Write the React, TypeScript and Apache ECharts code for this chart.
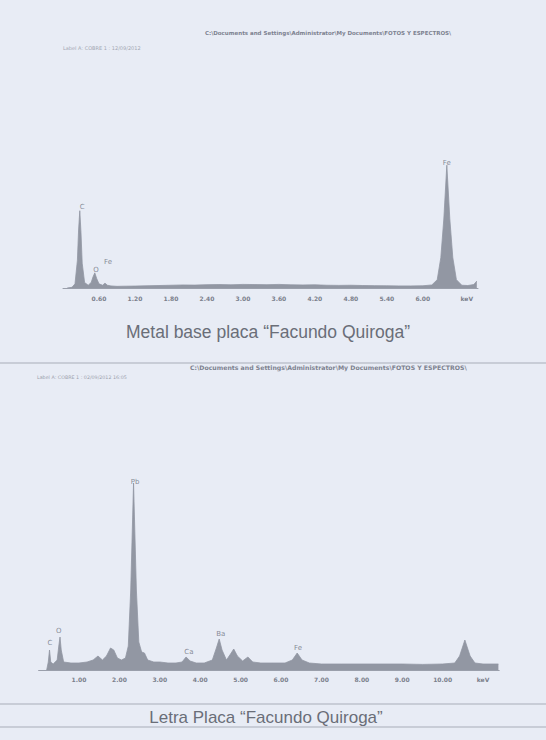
import React, { useEffect, useRef } from "react";
import * as echarts from "echarts";

// ---- Data ----
// Top spectrum: "Metal base placa" — [keV, relative counts]
const metalBaseSpectrum: [number, number][] = [
  [0.07, 0], [0.15, 0.5], [0.2, 3], [0.24, 20], [0.26, 42], [0.28, 56], [0.3, 40], [0.32, 18],
  [0.36, 4], [0.42, 2], [0.47, 4], [0.5, 8], [0.53, 11], [0.56, 7], [0.6, 3], [0.66, 2],
  [0.7, 3.5], [0.74, 2], [0.8, 1.5], [0.9, 1.2], [1.0, 1.3], [1.2, 1.4], [1.4, 1.6], [1.6, 1.8],
  [1.8, 2.0], [2.0, 2.2], [2.2, 2.1], [2.4, 2.4], [2.6, 2.5], [2.8, 2.3], [3.0, 2.6], [3.2, 2.5],
  [3.4, 2.4], [3.6, 2.6], [3.8, 2.3], [4.0, 2.2], [4.2, 2.3], [4.4, 2.0], [4.6, 1.9], [4.8, 2.0],
  [5.0, 1.8], [5.2, 1.7], [5.4, 1.6], [5.6, 1.5], [5.8, 1.5], [6.0, 1.6], [6.15, 2.2], [6.24, 6],
  [6.3, 22], [6.35, 50], [6.4, 89], [6.45, 50], [6.5, 22], [6.56, 6], [6.65, 2], [6.75, 1.8],
  [6.85, 2.5], [6.9, 5],
];
const metalBaseLabels = ["C", "O", "Fe", "Fe"];
const metalBaseLabelPos: [number, number][] = [[0.32, 58.7], [0.55, 13], [0.75, 18.8], [6.4, 90.6]];
const metalBaseTicks = ["0.60", "1.20", "1.80", "2.40", "3.00", "3.60", "4.20", "4.80", "5.40", "6.00", "keV"];

// Bottom spectrum: "Letra Placa" — [keV, relative counts]
const letraSpectrum: [number, number][] = [
  [0.2, 0], [0.24, 4], [0.27, 10], [0.3, 4], [0.36, 3], [0.46, 5], [0.5, 12], [0.53, 16.5],
  [0.56, 10], [0.62, 4], [0.8, 3.5], [1.0, 3.5], [1.2, 4], [1.35, 5], [1.47, 7], [1.58, 5],
  [1.68, 7], [1.78, 11], [1.86, 10], [1.95, 6], [2.05, 5], [2.15, 6], [2.22, 12], [2.28, 40],
  [2.35, 93.5], [2.42, 40], [2.48, 14], [2.55, 9], [2.62, 8.5], [2.7, 5], [2.85, 4], [3.0, 4],
  [3.2, 3.5], [3.4, 3.5], [3.55, 4], [3.65, 6.5], [3.75, 4.5], [3.9, 3.5], [4.1, 3.5], [4.3, 5],
  [4.4, 11], [4.47, 15.5], [4.54, 10], [4.65, 5], [4.75, 8], [4.83, 10.5], [4.92, 7], [5.05, 4.5],
  [5.18, 6.5], [5.3, 4], [5.5, 3.5], [5.8, 3.5], [6.1, 3.5], [6.28, 5], [6.4, 8.5], [6.52, 5],
  [6.7, 3.5], [7.0, 3], [7.5, 3], [8.0, 3], [8.5, 3], [9.0, 3], [9.5, 2.8], [10.0, 3],
  [10.3, 3.5], [10.42, 7], [10.55, 15], [10.68, 7], [10.8, 3.5], [11.0, 3], [11.38, 3],
];
const letraLabels = ["C", "O", "Pb", "Ca", "Ba", "Fe"];
const letraLabelPos: [number, number][] = [[0.28, 13.5], [0.5, 19.5], [2.39, 94], [3.72, 9], [4.51, 18], [6.42, 11]];
const letraTicks = ["1.00", "2.00", "3.00", "4.00", "5.00", "6.00", "7.00", "8.00", "9.00", "10.00", "keV"];

// Texts
const topHeader = "C:\\Documents and Settings\\Administrator\\My Documents\\FOTOS Y ESPECTROS\\";
const topLabel = "Label A: COBRE 1 : 12/09/2012";
const topTitle = "Metal base placa \u201CFacundo Quiroga\u201D";
const bottomHeader = "C:\\Documents and Settings\\Administrator\\My Documents\\FOTOS Y ESPECTROS\\";
const bottomLabel = "Label A: COBRE 1 : 02/09/2012 16:05";
const bottomTitle = "Letra Placa \u201CFacundo Quiroga\u201D";

const FILL = "#9297a3";
const AXIS = "#9a9fab";
const TICKTXT = "#7b808c";

function tickFormatter(step: number, labels: string[]) {
  return (v: number) => {
    const k = Math.round(v / step);
    if (Math.abs(v - k * step) > 1e-6 || k <= 0 || k > labels.length) return "";
    const t = labels[k - 1];
    return t === "keV" ? "{k|keV}" : t;
  };
}

export default function App() {
  const ref = useRef<HTMLDivElement>(null);
  useEffect(() => {
    if (!ref.current) return;
    const chart = echarts.init(ref.current, undefined, { renderer: "svg" });
    const axisLabelBase = {
      fontSize: 6,
      fontWeight: "bold" as const,
      color: TICKTXT,
      fontFamily: "DejaVu Sans",
    };
    const labelSeries = (xi: number, names: string[], pos: [number, number][]) => ({
      type: "scatter",
      xAxisIndex: xi,
      yAxisIndex: xi,
      symbolSize: 0,
      silent: true,
      data: names.map((n, i) => ({ name: n, value: pos[i] })),
      label: {
        show: true,
        position: "inside",
        formatter: (p: any) => p.name,
        fontSize: 7,
        fontFamily: "DejaVu Sans",
        color: "#6c717d",
      },
    });
    const text = (t: string, x: number, y: number, size: number, fill: string, opts: any = {}) => ({
      type: "text",
      x,
      y,
      style: {
        text: t,
        fontSize: size,
        fill,
        fontFamily: "DejaVu Sans",
        verticalAlign: "middle",
        ...opts,
      },
    });
    chart.setOption({
      animation: false,
      backgroundColor: "#e8ecf5",
      grid: [
        { left: 63, width: 415, top: 150, height: 138 },
        { left: 38.6, width: 460.6, top: 470, height: 200 },
      ],
      xAxis: [
        {
          type: "value", gridIndex: 0, min: 0, max: 6.92, interval: 0.6,
          splitLine: { show: false }, axisTick: { show: false },
          axisLine: { lineStyle: { color: AXIS, width: 1 } },
          axisLabel: {
            ...axisLabelBase, margin: 7, showMinLabel: false, showMaxLabel: false,
            formatter: tickFormatter(0.6, metalBaseTicks),
            rich: { k: { ...axisLabelBase, padding: [0, 0, 0, 16] } },
          },
        },
        {
          type: "value", gridIndex: 1, min: 0, max: 11.4, interval: 1,
          splitLine: { show: false }, axisTick: { show: false },
          axisLine: { lineStyle: { color: AXIS, width: 1 } },
          axisLabel: {
            ...axisLabelBase, margin: 6, showMinLabel: false, showMaxLabel: false,
            formatter: tickFormatter(1, letraTicks),
            rich: { k: { ...axisLabelBase } },
          },
        },
      ],
      yAxis: [
        { type: "value", gridIndex: 0, min: 0, max: 100, show: false },
        { type: "value", gridIndex: 1, min: 0, max: 100, show: false },
      ],
      series: [
        {
          type: "line", xAxisIndex: 0, yAxisIndex: 0, data: metalBaseSpectrum,
          showSymbol: false, lineStyle: { color: FILL, width: 0.8 },
          areaStyle: { color: FILL, opacity: 1 }, silent: true,
        },
        {
          type: "line", xAxisIndex: 1, yAxisIndex: 1, data: letraSpectrum,
          showSymbol: false, lineStyle: { color: FILL, width: 0.8 },
          areaStyle: { color: FILL, opacity: 1 }, silent: true,
        },
        labelSeries(0, metalBaseLabels, metalBaseLabelPos),
        labelSeries(1, letraLabels, letraLabelPos),
      ],
      graphic: [
        text(topHeader, 205, 33, 5.5, "#7d8290", { fontWeight: "bold" }),
        text(topLabel, 63, 48, 5, "#a3a8b4"),
        text(topTitle, 268, 332, 17.5, "#6a6e78", { align: "center", fontFamily: "Liberation Sans" }),
        { type: "line", shape: { x1: 0, y1: 363, x2: 546, y2: 363 }, style: { stroke: "#a8adb8", lineWidth: 1 } },
        text(bottomHeader, 190, 367, 6.2, "#7d8290", { fontWeight: "bold" }),
        text(bottomLabel, 37, 377, 4.8, "#9ca1ad"),
        { type: "line", shape: { x1: 0, y1: 704, x2: 546, y2: 704 }, style: { stroke: "#a8adb8", lineWidth: 1 } },
        text(bottomTitle, 266, 717, 17, "#6a6e78", { align: "center", fontFamily: "Liberation Sans" }),
        { type: "line", shape: { x1: 0, y1: 727, x2: 546, y2: 727 }, style: { stroke: "#a8adb8", lineWidth: 1 } },
      ],
    });
    return () => chart.dispose();
  }, []);
  return (
    <div
      ref={ref}
      style={{ position: "fixed", left: 0, top: 0, width: 546, height: 740 }}
    />
  );
}
